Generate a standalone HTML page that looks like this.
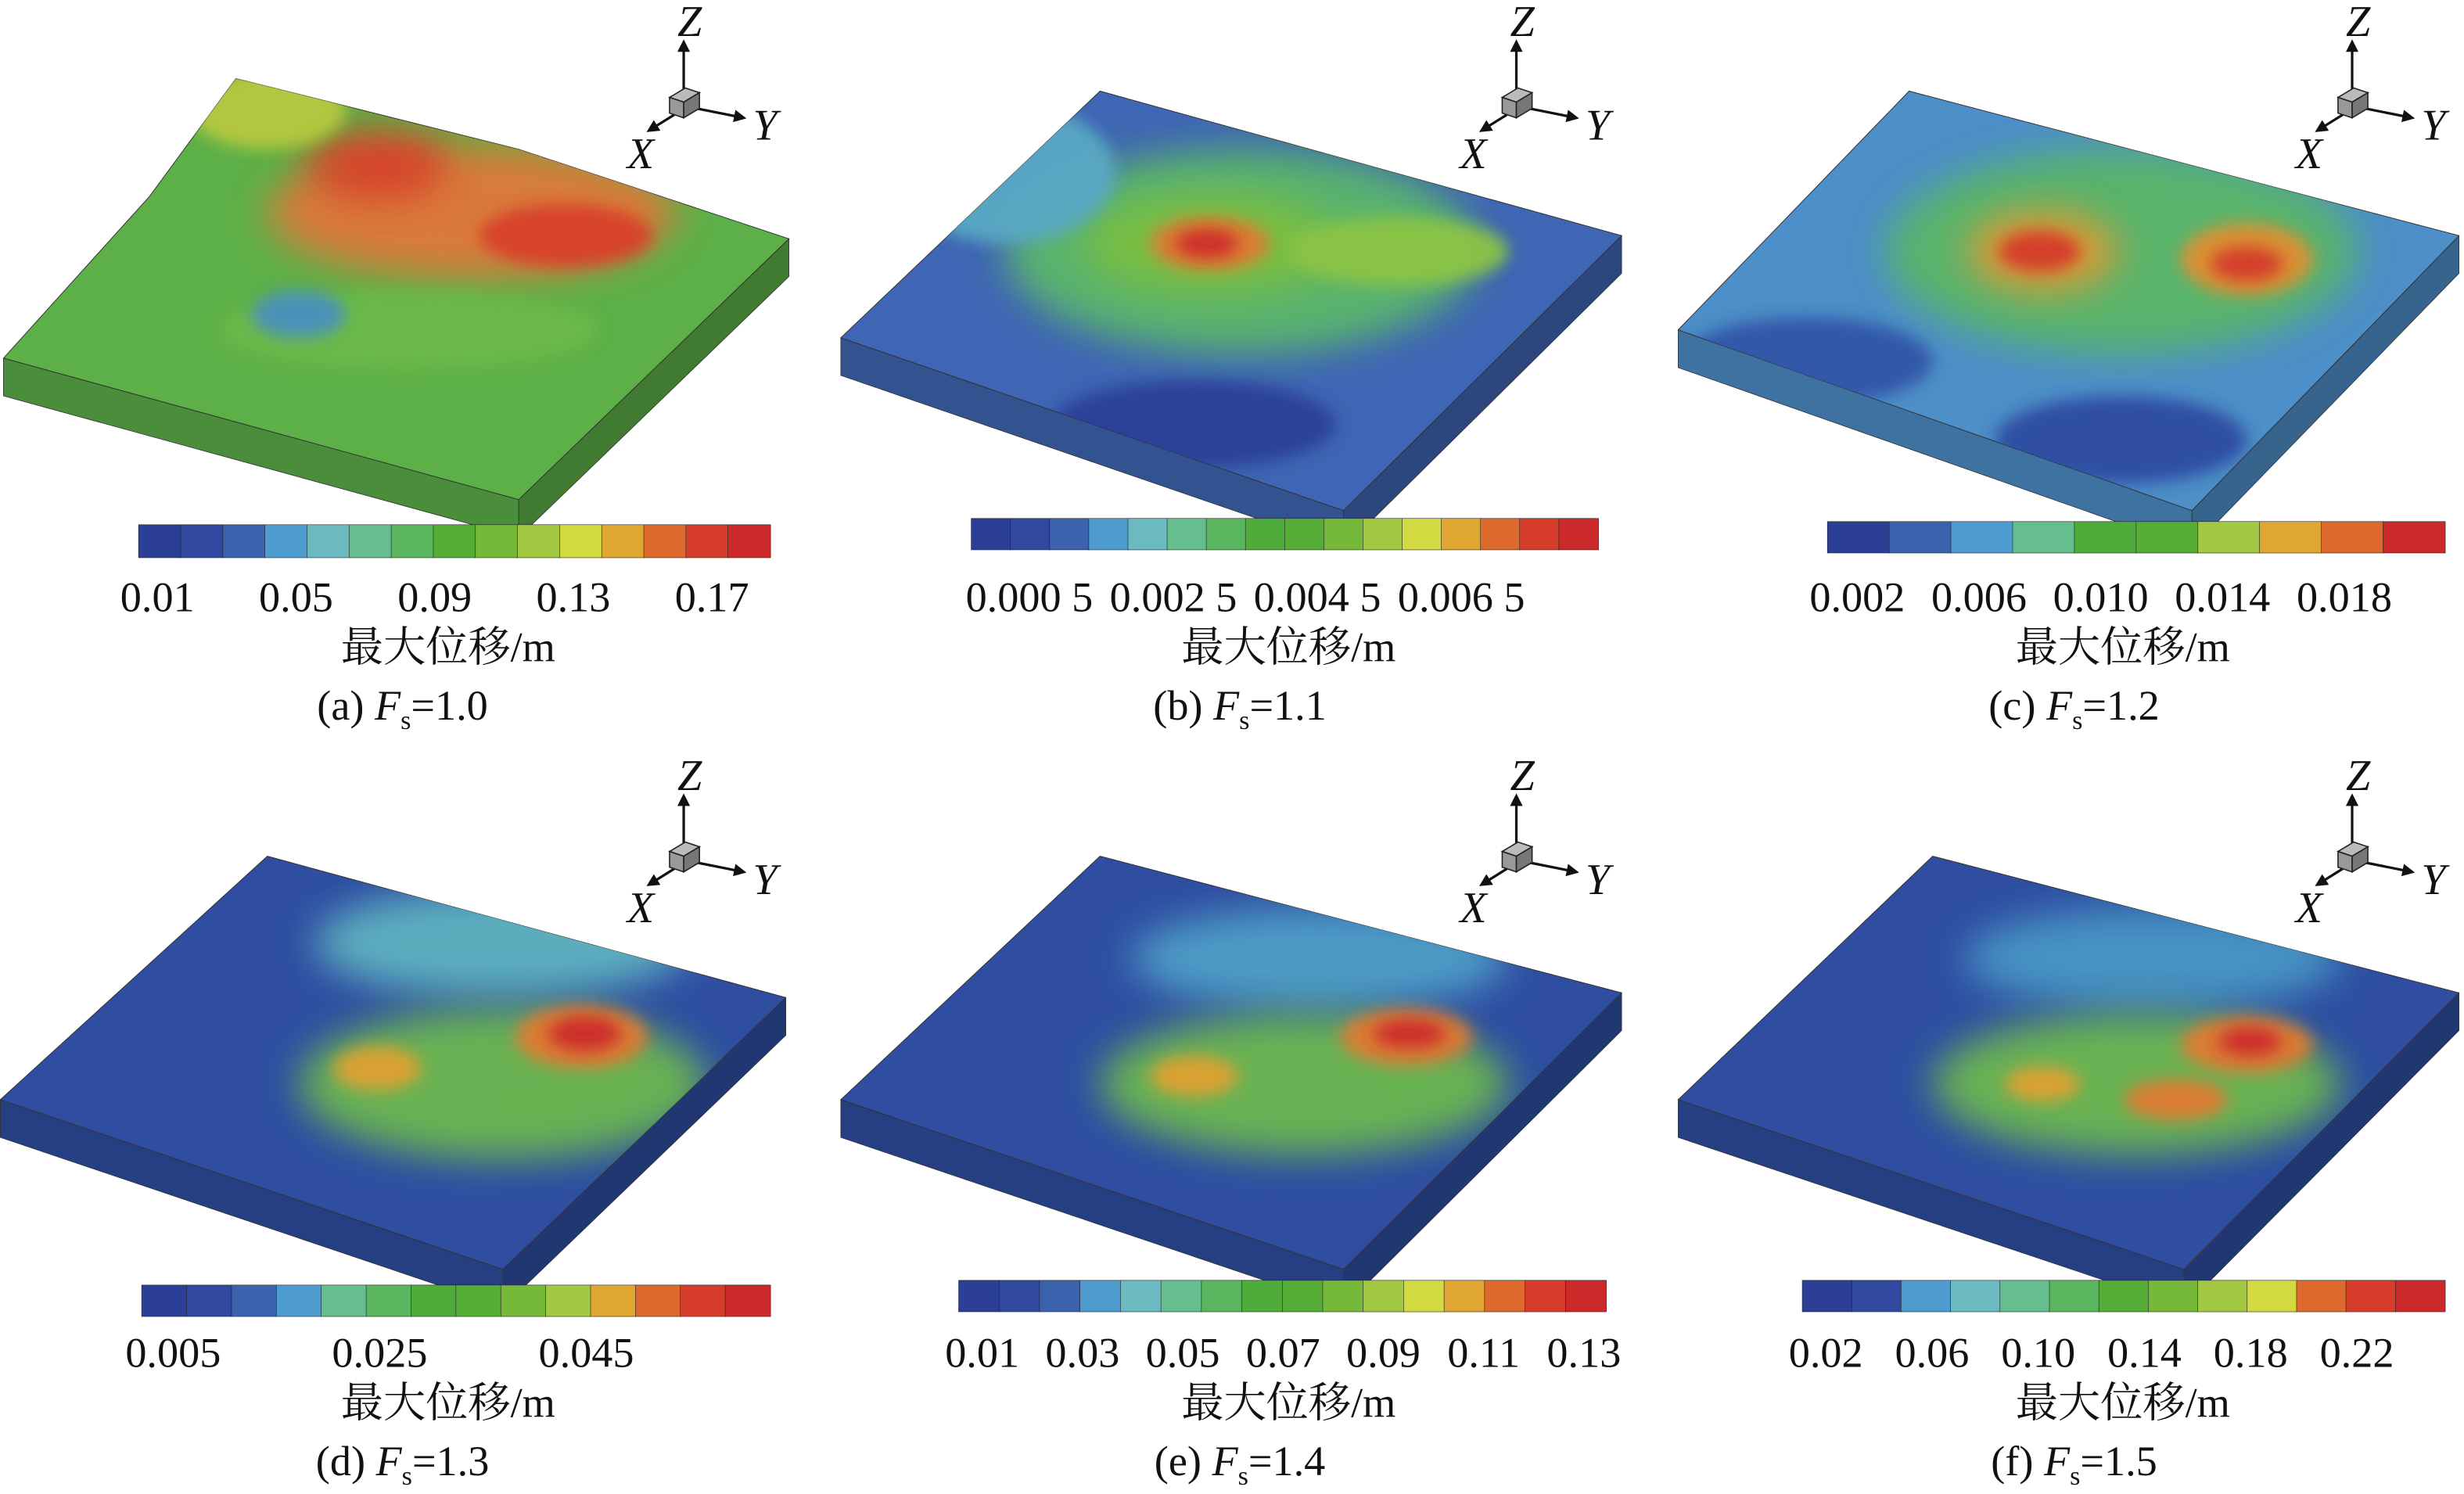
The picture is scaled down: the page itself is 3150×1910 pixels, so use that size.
<!DOCTYPE html>
<html><head><meta charset="utf-8"><style>
html,body{margin:0;padding:0;background:#fff}
svg{display:block}
text{font-family:"Liberation Serif","Noto Serif CJK SC",serif;fill:#111}
</style></head><body>
<svg id="fig" width="3150" height="1910" viewBox="0 0 1568 951" xmlns="http://www.w3.org/2000/svg">
<defs>
<filter id="blur" x="-50%" y="-50%" width="200%" height="200%"><feGaussianBlur stdDeviation="12"/></filter>
<filter id="blur2" x="-50%" y="-50%" width="200%" height="200%"><feGaussianBlur stdDeviation="5"/></filter>
<marker id="arr" markerWidth="8" markerHeight="8" refX="6" refY="4" orient="auto" markerUnits="userSpaceOnUse"><path d="M0,0 L8,4 L0,8 Z" fill="#111"/></marker>
</defs>
</svg>
<script>
const NS='http://www.w3.org/2000/svg';
const svg=document.getElementById('fig');
function mk(tag,attrs,parent){const e=document.createElementNS(NS,tag);for(const k in attrs)e.setAttribute(k,attrs[k]);(parent||svg).appendChild(e);return e;}

const barColors=['#2c3f96','#30489f','#3a62ad','#4e9ccf','#6bbac2','#66bd8e','#5ab55f','#4fab3a','#55ad37','#76b83a','#a3c943','#d3d940','#e0a632','#dd6a2c','#d63c2a','#cc2a2a'];
const segCounts=[15,16,10,14,16,13];
const tickA=['0.01','0.05','0.09','0.13','0.17'];
const tickB=['0.000 5','0.002 5','0.004 5','0.006 5'];
const tickC=['0.002','0.006','0.010','0.014','0.018'];
const tickD=['0.005','0.025','0.045'];
const tickE=['0.01','0.03','0.05','0.07','0.09','0.11','0.13'];
const tickF=['0.02','0.06','0.10','0.14','0.18','0.22'];
const ticks=[tickA,tickB,tickC,tickD,tickE,tickF];
const captions=['(a) ','(b) ','(c) ','(d) ','(e) ','(f) '];
const fsValues=['1.0','1.1','1.2','1.3','1.4','1.5'];

const panels=[
 {bar:[88,334,490,355],t0:100,t1:453,quad:[[2,228],[95,125],[150,50],[330,95],[502,152],[330,318]],base:'#5db048',
  spots:[[300,135,130,42,'#e0783a'],[240,105,45,22,'#d8402c'],[360,150,55,20,'#d8402c'],[170,70,50,25,'#b8c840'],[260,210,120,25,'#6cba4a'],[190,200,30,15,'#4a90c0']]},
 {bar:[618,330,1017,350],t0:655,t1:930,quad:[[535,215],[700,58],[1032,150],[855,325]],base:'#3f66b4',
  spots:[[790,160,150,65,'#5cb86a'],[770,155,80,32,'#7cbf40'],[770,155,38,17,'#e07a30'],[768,155,20,9,'#cc2a2a'],[890,160,70,22,'#8cc445'],[640,110,70,45,'#5aa9c4'],[760,270,90,28,'#2c3f96']]},
 {bar:[1163,332,1556,352],t0:1182,t1:1492,quad:[[1068,210],[1215,58],[1565,150],[1395,325]],base:'#4d8fc8',
  spots:[[1350,160,150,65,'#5ab668'],[1300,160,48,26,'#e09a30'],[1298,160,26,13,'#d43a2c'],[1430,165,42,23,'#e09030'],[1430,168,23,11,'#d43a2c'],[1150,230,80,28,'#3355a8'],[1350,280,80,28,'#2f4ba2']]},
 {bar:[90,818,490,838],t0:110,t1:373,quad:[[0,700],[170,545],[500,635],[320,808]],base:'#2f4ea2',
  spots:[[320,600,120,35,'#5fb2c0'],[320,690,130,48,'#6db850'],[370,660,42,20,'#e07a30'],[372,658,23,11,'#cc2a2a'],[240,680,28,14,'#e0a030']]},
 {bar:[610,815,1022,835],t0:625,t1:1008,quad:[[535,700],[700,545],[1032,632],[855,808]],base:'#2f4ea2',
  spots:[[840,610,120,32,'#4fa0c8'],[830,690,130,45,'#6db850'],[895,660,42,18,'#e07a30'],[897,658,23,9,'#cc2a2a'],[760,685,28,13,'#e0a030']]},
 {bar:[1147,815,1556,835],t0:1162,t1:1500,quad:[[1068,700],[1230,545],[1565,632],[1390,808]],base:'#2f4ea2',
  spots:[[1370,610,120,32,'#4a98c6'],[1360,690,130,45,'#6db850'],[1430,665,42,18,'#e07a30'],[1432,663,20,9,'#cc2a2a'],[1385,700,33,13,'#e07a30'],[1300,690,24,11,'#e0a030']]}
];
const triads=[[435,65],[965,65],[1497,65],[435,545],[965,545],[1497,545]];

function shade(hex,f){const n=parseInt(hex.slice(1),16);let r=(n>>16)&255,g=(n>>8)&255,b=n&255;return `rgb(${Math.round(r*f)},${Math.round(g*f)},${Math.round(b*f)})`;}

panels.forEach((p,i)=>{
  const g=mk('g',{});
  
  
  const q=p.quad, th=24, L=q[0], B=q[q.length-1], R=q[q.length-2];
  const s1=mk('polygon',{points:`${L} ${B} ${B[0]},${B[1]+th} ${L[0]},${L[1]+th}`,fill:shade(p.base,0.8),stroke:'#333','stroke-width':0.4},g);
  
  
  const s2=mk('polygon',{points:`${B} ${R} ${R[0]},${R[1]+th} ${B[0]},${B[1]+th}`,fill:shade(p.base,0.7),stroke:'#333','stroke-width':0.4},g);
  
  
  const cid='clip'+i;
  const cp=mk('clipPath',{id:cid},g);
  mk('polygon',{points:q.join(' ')},cp);
  const top=mk('polygon',{points:q.join(' '),fill:p.base,stroke:'#333','stroke-width':0.5},g);
  
  
  const sg=mk('g',{'clip-path':`url(#${cid})`},g);
  p.spots.forEach((s,k)=>{
    const e=mk('ellipse',{cx:s[0],cy:s[1],rx:s[2],ry:s[3],fill:s[4],filter:k>1?'url(#blur2)':'url(#blur)',opacity:0.95},sg);
    
    
  });
  const [x0,y0,x1,y1]=p.bar, n=segCounts[i], w=(x1-x0)/n;
  for(let k=0;k<n;k++){
    const ci=Math.round(k*(barColors.length-1)/(n-1));
    const r=mk('rect',{x:x0+k*w,y:y0,width:w+0.3,height:y1-y0,fill:barColors[ci],stroke:'#222','stroke-width':0.3},g);
    
    
  }
  const tl=ticks[i], ty=(i<3?389:870);
  tl.forEach((t,k)=>{
    const x=p.t0+(tl.length>1?k*(p.t1-p.t0)/(tl.length-1):0);
    const tx=mk('text',{x:x,y:ty,'font-size':27,'text-anchor':'middle'},g);
    tx.textContent=t;
    
    
  });
  const col=i%3;
  const title=mk('text',{x:[285,820,1351][col],y:ty+32,'font-size':27,'text-anchor':'middle'},g);
  title.textContent='最大位移/m';
  
  
  const cap=mk('text',{x:[256,789,1320][col],y:ty+69,'font-size':27,'text-anchor':'middle'},g);
  cap.innerHTML=captions[i]+'<tspan font-style="italic">F</tspan><tspan font-size="17" dy="6">s</tspan><tspan dy="-6">='+fsValues[i]+'</tspan>';
  
  
  const [ax,ay]=triads[i];
  const tg=mk('g',{},g);
  
  
  mk('line',{x1:ax,y1:ay-6,x2:ax,y2:ay-38,stroke:'#111','stroke-width':1.6,'marker-end':'url(#arr)'},tg);
  mk('line',{x1:ax+8,y1:ay+4,x2:ax+38,y2:ay+10,stroke:'#111','stroke-width':1.6,'marker-end':'url(#arr)'},tg);
  mk('line',{x1:ax-6,y1:ay+8,x2:ax-22,y2:ay+18,stroke:'#111','stroke-width':1.6,'marker-end':'url(#arr)'},tg);
  mk('polygon',{points:`${ax-9},${ay-3} ${ax+1},${ay-9} ${ax+10},${ay-6} ${ax},${ay}`,fill:'#bbb',stroke:'#222','stroke-width':0.8},tg);
  mk('polygon',{points:`${ax-9},${ay-3} ${ax},${ay} ${ax},${ay+10} ${ax-9},${ay+7}`,fill:'#999',stroke:'#222','stroke-width':0.8},tg);
  mk('polygon',{points:`${ax},${ay} ${ax+10},${ay-6} ${ax+10},${ay+4} ${ax},${ay+10}`,fill:'#777',stroke:'#222','stroke-width':0.8},tg);
  [['Z',ax-4,ay-42],['Y',ax+44,ay+24],['X',ax-36,ay+42]].forEach(a=>{
    const t=mk('text',{x:a[1],y:a[2],'font-size':28,'font-style':'italic'},tg);
    t.textContent=a[0];
    
    
  });
});
</script>
</body></html>
